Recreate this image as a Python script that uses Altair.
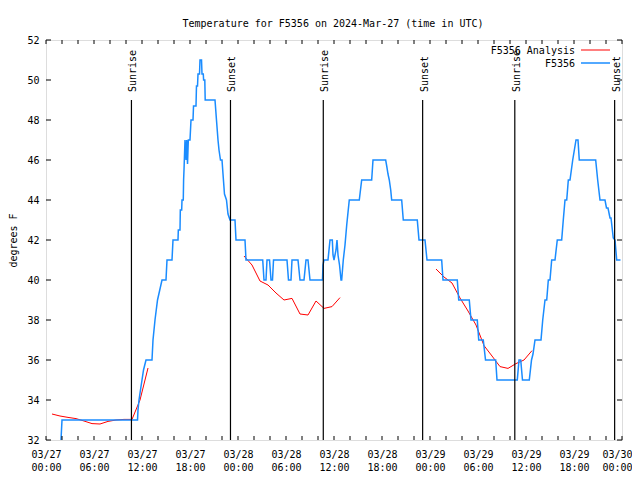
import altair as alt
import pandas as pd

TITLE = "Temperature for F5356 on 2024-Mar-27 (time in UTC)"
Y_TITLE = "degrees F"
SERIES = ["F5356 Analysis", "F5356"]
COLORS = ["#ff0000", "#1a8cff"]
FONT = "DejaVu Sans Mono"

# Observations (hours since 2024-03-27 00:00 UTC, degrees F)
obs_hours = [1.875, 2.0, 11.44, 11.5, 11.625, 11.81, 12.0, 12.19, 12.5, 13.25, 13.375, 13.625,
             13.94, 14.5, 15.0, 15.125, 15.75, 15.875, 16.5, 16.54, 16.75, 16.79, 16.96, 17.0,
             17.16, 17.2, 17.25, 17.375, 17.5, 17.59, 17.69, 17.79, 18.0, 18.125, 18.375, 18.44,
             18.75, 18.81, 18.94, 19.0, 19.19, 19.25, 19.44, 19.5, 19.66, 19.7, 19.85, 19.9,
             21.125, 21.31, 21.5, 21.625, 21.81, 22.0, 22.125, 22.31, 22.56, 22.75, 23.0, 23.625,
             23.75, 24.875, 25.0, 27.09, 27.25, 27.5, 27.625, 27.94, 28.125, 28.31, 28.44, 30.125,
             30.31, 30.625, 30.75, 31.5, 31.75, 32.25, 32.5, 32.75, 33.0, 34.56, 34.625, 34.75,
             35.25, 35.5, 35.79, 35.875, 36.0, 36.125, 36.25, 36.375, 36.5, 36.69, 36.875, 36.96,
             37.16, 37.375, 37.59, 37.91, 39.16, 39.46, 40.71, 40.875, 42.46, 42.59, 42.75, 42.91,
             43.09, 43.21, 44.46, 44.66, 46.41, 46.625, 47.375, 47.625, 49.46, 49.625, 51.41, 51.59,
             52.91, 53.125, 53.91, 54.09, 54.66, 54.94, 56.21, 56.375, 58.91, 59.125, 59.34, 59.56,
             60.41, 60.69, 60.875, 61.125, 61.875, 62.09, 62.375, 62.59, 62.79, 63.0, 63.21, 63.625,
             63.91, 64.46, 64.66, 64.875, 65.09, 65.29, 65.5, 65.84, 66.25, 66.5, 66.66, 68.71,
             68.96, 69.25, 69.875, 70.06, 70.25, 70.5, 70.625, 70.91, 71.125, 71.34, 71.81]
obs_temps = [32, 33, 33, 33.5, 34, 34.5, 35, 35.5, 36, 36, 37, 38,
             39, 40, 40, 41, 41, 42, 42, 42.5, 42.5, 43.5, 43.5, 44,
             44, 45, 45.5, 47, 46, 47, 45.8, 47, 47, 48, 48, 48.7,
             48.7, 49.7, 49.7, 50.3, 50.3, 51, 51, 50.3, 50.3, 50.0, 50.0, 49,
             49, 48, 47, 46.5, 46, 46, 45.3, 44.3, 44, 43.3, 43, 43,
             42, 42, 41, 41, 40, 40, 41, 41, 40, 40, 41, 41,
             40, 40, 41, 41, 40, 40, 41, 41, 40, 40, 40.75, 41,
             41, 42, 42, 41.25, 41, 41.25, 41.5, 42, 41.25, 40.75, 40, 40,
             41, 41.75, 42.75, 44, 44, 45, 45, 46, 46, 45.7, 45.3, 45,
             44.5, 44, 44, 43, 43, 42, 42, 41, 41, 40, 40, 39,
             39, 38, 38, 37, 37, 36, 36, 35, 35, 36, 36, 35,
             35, 36, 36.3, 37, 37, 38, 39, 39, 40, 40, 41, 41,
             42, 42, 43, 44, 44, 45, 45, 46, 47, 47, 46, 46,
             45, 44, 44, 43.6, 43.6, 43.1, 43.1, 42.1, 42, 41, 41]

# Analysis (three runs)
ana_hours = [0.75, 1.75, 2.75, 3.75, 4.75, 5.75, 6.75, 7.75, 8.75, 9.75, 10.75, 11.75, 12.75,
             24.75, 25.75, 26.75, 27.75, 28.75, 29.75, 30.75, 31.75, 32.75, 33.75, 34.75, 35.75, 36.75,
             48.75, 49.75, 50.75, 51.75, 52.75, 53.75, 54.75, 55.75, 56.75, 57.75, 58.75, 59.75, 60.75]
ana_temps = [33.3, 33.2, 33.13, 33.07, 32.95, 32.82, 32.8, 32.93, 33.0, 33.03, 33.03, 34.0, 35.6,
             41.2, 40.75, 39.95, 39.75, 39.35, 39.0, 39.08, 38.3, 38.25, 38.95, 38.58, 38.67, 39.12,
             40.55, 40.15, 39.85, 39.1, 38.45, 37.75, 36.72, 36.2, 35.67, 35.58, 35.82, 36.0, 36.47]
ana_run = [0] * 13 + [1] * 13 + [2] * 13

sun_hours = [10.68, 23.06, 34.66, 47.08, 58.6, 71.08]
sun_labels = ["Sunrise", "Sunset", "Sunrise", "Sunset", "Sunrise", "Sunset"]

x_ticks = list(range(0, 73, 2))
x_label_values = list(range(0, 73, 6))
y_ticks = list(range(32, 53, 2))

W, H = 576, 400

obs = pd.DataFrame({"h": obs_hours, "v": obs_temps})
ana = pd.DataFrame({"h": ana_hours, "v": ana_temps, "run": ana_run})
sun = pd.DataFrame({"h": sun_hours, "label": sun_labels})
xt = pd.DataFrame({"h": x_ticks})
yt = pd.DataFrame({"v": y_ticks})

x_scale = alt.Scale(domain=[0, 72], nice=False, zero=False)
y_scale = alt.Scale(domain=[32, 52], nice=False, zero=False)

x_axis = alt.Axis(
    values=x_label_values,
    labelExpr="['03/' + (27 + floor(datum.value / 24)), (datum.value % 24 < 10 ? '0' : '') + (datum.value % 24) + ':00']",
    ticks=False, domain=False, grid=False, title=None,
    labelFont=FONT, labelFontSize=10, labelColor="black",
    labelPadding=9, labelLineHeight=13, labelFlush=False, labelOverlap=False,
    labelAlign=alt.ConditionalAxisLabelAlign(
        condition={"test": "datum.value >= 72", "value": "right"}, value="center"),
    labelOffset=alt.ConditionalAxisNumber(
        condition={"test": "datum.value >= 72", "value": 10}, value=0),
)
y_axis = alt.Axis(
    values=y_ticks, ticks=False, domain=False, grid=False,
    labelFont=FONT, labelFontSize=10, labelColor="black", labelPadding=7,
    title=Y_TITLE, titleFont=FONT, titleFontSize=10, titleFontWeight="normal",
    titleColor="black", titleX=-30, titleY=200, titleAngle=270,
    titleBaseline="alphabetic", titleAlign="center",
)

X = alt.X("h:Q", scale=x_scale, axis=x_axis)
Y = alt.Y("v:Q", scale=y_scale, axis=y_axis)

ana_line = alt.Chart(ana).mark_line(color=COLORS[0], strokeWidth=1, clip=True).encode(
    x=X, y=Y, detail="run:N")
obs_line = alt.Chart(obs).mark_line(color=COLORS[1], strokeWidth=1.5, clip=True).encode(x=X, y=Y)

sun_rules = alt.Chart(sun).mark_rule(color="black", strokeWidth=1.2).encode(
    x=X, y=alt.value(60), y2=alt.value(H))
sun_text = alt.Chart(sun).mark_text(
    angle=270, align="left", baseline="middle", font=FONT, fontSize=10, color="black", dy=2
).encode(x=X, y=alt.value(52), text="label:N")

xb = alt.Chart(xt).mark_rule(color="black", strokeWidth=1).encode(x=X, y=alt.value(H), y2=alt.value(H - 4))
xtop = alt.Chart(xt).mark_rule(color="black", strokeWidth=1).encode(x=X, y=alt.value(0), y2=alt.value(4))
yl = alt.Chart(yt).mark_rule(color="black", strokeWidth=1).encode(y=Y, x=alt.value(0), x2=alt.value(5))
yr = alt.Chart(yt).mark_rule(color="black", strokeWidth=1).encode(y=Y, x=alt.value(W - 5), x2=alt.value(W))

title = alt.Chart(pd.DataFrame({"t": [TITLE]})).mark_text(
    font=FONT, fontSize=10, color="black", align="center", baseline="alphabetic"
).encode(x=alt.value(W / 2 - 1), y=alt.value(-13), text="t:N")

legend_layers = []
for i, (name, col) in enumerate(zip(SERIES, COLORS)):
    ly = 10 + 13 * i
    legend_layers.append(
        alt.Chart(pd.DataFrame({"t": [name]})).mark_text(
            font=FONT, fontSize=10, color="black", align="right", baseline="middle"
        ).encode(x=alt.value(529), y=alt.value(ly + 0.5), text="t:N")
    )
    legend_layers.append(
        alt.Chart(pd.DataFrame({"t": [name]})).mark_rule(color=col, strokeWidth=1 if i == 0 else 1.5).encode(
            x=alt.value(535), x2=alt.value(564), y=alt.value(ly))
    )

chart = alt.layer(
    ana_line, obs_line, sun_rules, sun_text, xb, xtop, yl, yr, title, *legend_layers
).properties(
    width=W, height=H,
    padding={"left": 38, "top": 32, "right": 10, "bottom": 32},
    autosize=alt.AutoSizeParams(type="none"),
).configure_view(stroke="black", strokeWidth=1).configure(background="white")

chart.save("out.html", embed_options={"renderer": "svg", "actions": False})
